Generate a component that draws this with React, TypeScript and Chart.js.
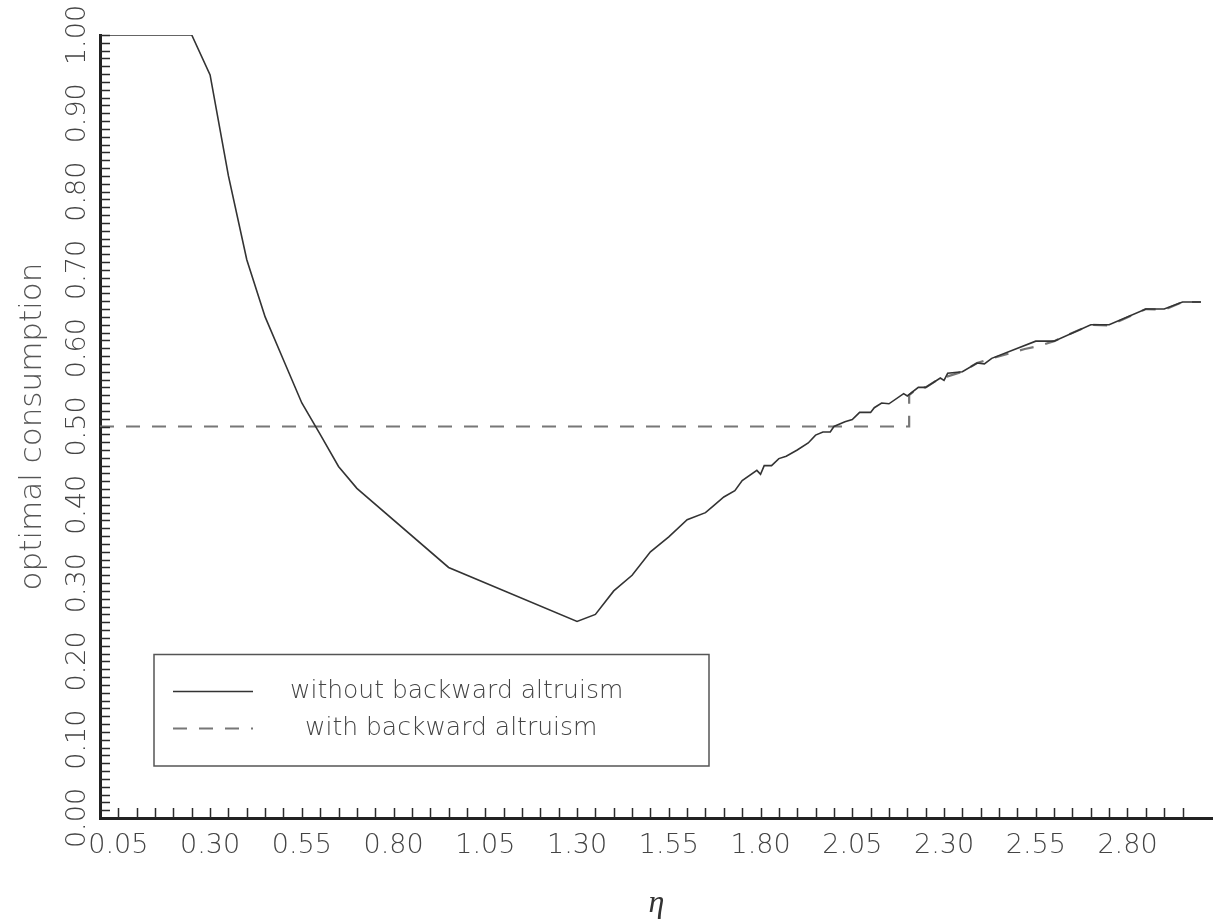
import React, { useEffect, useRef } from "react";
import { Chart, registerables } from "chart.js";

Chart.register(...registerables);

// ---- data ----
const etaWithout = [
  0.0, 0.25, 0.30, 0.35, 0.40, 0.45, 0.50, 0.55, 0.60, 0.65, 0.70, 0.95, 1.30, 1.35,
  1.40, 1.45, 1.50, 1.55, 1.60, 1.65, 1.67, 1.70, 1.73, 1.75, 1.79, 1.80, 1.81, 1.83,
  1.85, 1.87, 1.90, 1.93, 1.95, 1.97, 1.99, 2.00, 2.03, 2.05, 2.07, 2.10, 2.11, 2.13,
  2.15, 2.19, 2.20, 2.23, 2.25, 2.29, 2.30, 2.31, 2.35, 2.39, 2.41, 2.43, 2.55, 2.60,
  2.70, 2.75, 2.85, 2.90, 2.95, 3.00,
];
const consWithout = [
  1.0, 1.0, 0.949, 0.82, 0.713, 0.64, 0.585, 0.53, 0.49, 0.449, 0.421, 0.32, 0.251, 0.26,
  0.29, 0.31, 0.34, 0.359, 0.381, 0.39, 0.398, 0.41, 0.418, 0.431, 0.444, 0.439, 0.45, 0.45,
  0.459, 0.462, 0.47, 0.479, 0.489, 0.493, 0.493, 0.5, 0.506, 0.509, 0.518, 0.518, 0.524, 0.53,
  0.529, 0.542, 0.539, 0.55, 0.55, 0.562, 0.559, 0.568, 0.57, 0.581, 0.58, 0.587, 0.609, 0.609,
  0.63, 0.63, 0.65, 0.65, 0.659, 0.659,
];

const etaWith = [
  0.0, 2.205, 2.205, 2.23, 2.25, 2.29, 2.31, 2.35, 2.39, 2.43, 2.52, 2.56, 2.60, 2.70,
  2.75, 2.85, 2.90, 2.95, 3.00,
];
const consWith = [
  0.5, 0.5, 0.54, 0.55, 0.55, 0.562, 0.564, 0.57, 0.581, 0.587, 0.599, 0.603, 0.609, 0.63,
  0.629, 0.65, 0.649, 0.659, 0.659,
];

const seriesLabels = ["without backward altruism", "with backward altruism"];
const xTickLabels = [0.05, 0.3, 0.55, 0.8, 1.05, 1.3, 1.55, 1.8, 2.05, 2.3, 2.55, 2.8];
const yTickLabels = [0.0, 0.1, 0.2, 0.3, 0.4, 0.5, 0.6, 0.7, 0.8, 0.9, 1.0];
const xMinorStep = 0.05;
const xMinorLast = 2.95;
const yMinorStep = 0.01;

const FONT = '"DejaVu Sans", sans-serif';

const decorPlugin = {
  id: "decor",
  afterDraw(chart: any) {
    const ctx: CanvasRenderingContext2D = chart.ctx;
    const { left, bottom } = chart.chartArea;
    const xs = chart.scales.x;
    const ys = chart.scales.y;
    ctx.save();

    // minor tick marks (inside)
    ctx.strokeStyle = "#2a2a2a";
    ctx.lineWidth = 1.5;
    ctx.beginPath();
    for (let i = 1; i * yMinorStep <= ys.max + 1e-9; i++) {
      const py = Math.round(ys.getPixelForValue(i * yMinorStep)) + 0.5;
      ctx.moveTo(left, py);
      ctx.lineTo(left + 10, py);
    }
    for (let i = 1; i * xMinorStep <= xMinorLast + 1e-9; i++) {
      const px = Math.round(xs.getPixelForValue(i * xMinorStep)) + 0.5;
      ctx.moveTo(px, bottom);
      ctx.lineTo(px, bottom - 10);
    }
    ctx.stroke();

    // rotated y tick labels
    ctx.fillStyle = "#444";
    ctx.font = `200 27px ${FONT}`;
    ctx.textAlign = "center";
    ctx.textBaseline = "middle";
    yTickLabels.forEach((v) => {
      const py = ys.getPixelForValue(v);
      ctx.save();
      ctx.translate(77.5, py);
      ctx.rotate(-Math.PI / 2);
      ctx.fillText(v.toFixed(2), 0, 0);
      ctx.restore();
    });

    // legend box
    const ds = chart.data.datasets;
    ctx.strokeStyle = "#555";
    ctx.lineWidth = 1.5;
    ctx.strokeRect(154, 654.5, 555, 111.5);
    const rows = [691.5, 728.5];
    const textX = [290, 305];
    ds.forEach((d: any, i: number) => {
      ctx.save();
      ctx.strokeStyle = d.borderColor;
      ctx.lineWidth = d.borderWidth;
      ctx.setLineDash(d.borderDash || []);
      ctx.beginPath();
      ctx.moveTo(173, rows[i]);
      ctx.lineTo(253, rows[i]);
      ctx.stroke();
      ctx.restore();
      ctx.fillStyle = "#444";
      ctx.font = `200 25px ${FONT}`;
      ctx.textAlign = "left";
      ctx.textBaseline = "middle";
      ctx.fillText(d.label, textX[i], rows[i]);
    });

    ctx.restore();
  },
};

export default function App() {
  const ref = useRef<HTMLCanvasElement | null>(null);

  useEffect(() => {
    if (!ref.current) return;
    const chart = new Chart(ref.current, {
      type: "line",
      data: {
        datasets: [
          {
            label: seriesLabels[0],
            data: etaWithout.map((x, i) => ({ x, y: consWithout[i] })),
            borderColor: "#333",
            borderWidth: 1.6,
            pointRadius: 0,
            tension: 0,
            fill: false,
          },
          {
            label: seriesLabels[1],
            data: etaWith.map((x, i) => ({ x, y: consWith[i] })),
            borderColor: "#777",
            borderWidth: 2.2,
            borderDash: [14, 12],
            pointRadius: 0,
            tension: 0,
            fill: false,
          },
        ],
      },
      options: {
        responsive: false,
        animation: false,
        layout: { padding: { top: 35, left: 0, right: 0, bottom: 0 } },
        plugins: { legend: { display: false }, tooltip: { enabled: false } },
        scales: {
          x: {
            type: "linear",
            min: 0,
            max: 3.033,
            afterBuildTicks: (s: any) => {
              s.ticks = xTickLabels.map((v) => ({ value: v }));
            },
            afterFit: (s: any) => {
              s.height = 106;
            },
            ticks: {
              autoSkip: false,
              maxRotation: 0,
              minRotation: 0,
              padding: 12,
              color: "#444",
              font: { family: FONT, size: 27, weight: "200" },
              callback: (v: any) => Number(v).toFixed(2),
            },
            grid: { display: false, drawTicks: false },
            border: { display: true, color: "#222", width: 3 },
            title: {
              display: true,
              text: "η",
              color: "#333",
              font: { family: '"Liberation Serif", serif', style: "italic", size: 32 },
              padding: { top: 0, bottom: 1 },
            },
          },
          y: {
            type: "linear",
            min: 0,
            max: 1,
            afterFit: (s: any) => {
              s.width = 100;
            },
            ticks: { display: false },
            grid: { display: false, drawTicks: false },
            border: { display: true, color: "#222", width: 3 },
            title: {
              display: true,
              text: "optimal consumption",
              color: "#555",
              font: { family: FONT, size: 31, weight: "200" },
              padding: { top: 14, bottom: 0 },
            },
          },
        },
      },
      plugins: [decorPlugin],
    } as any);
    return () => chart.destroy();
  }, []);

  return (
    <div style={{ position: "fixed", left: 0, top: 0, width: 1213, height: 924, background: "#fff" }}>
      <canvas ref={ref} width={1213} height={924} style={{ width: 1213, height: 924, display: "block" }} />
    </div>
  );
}
